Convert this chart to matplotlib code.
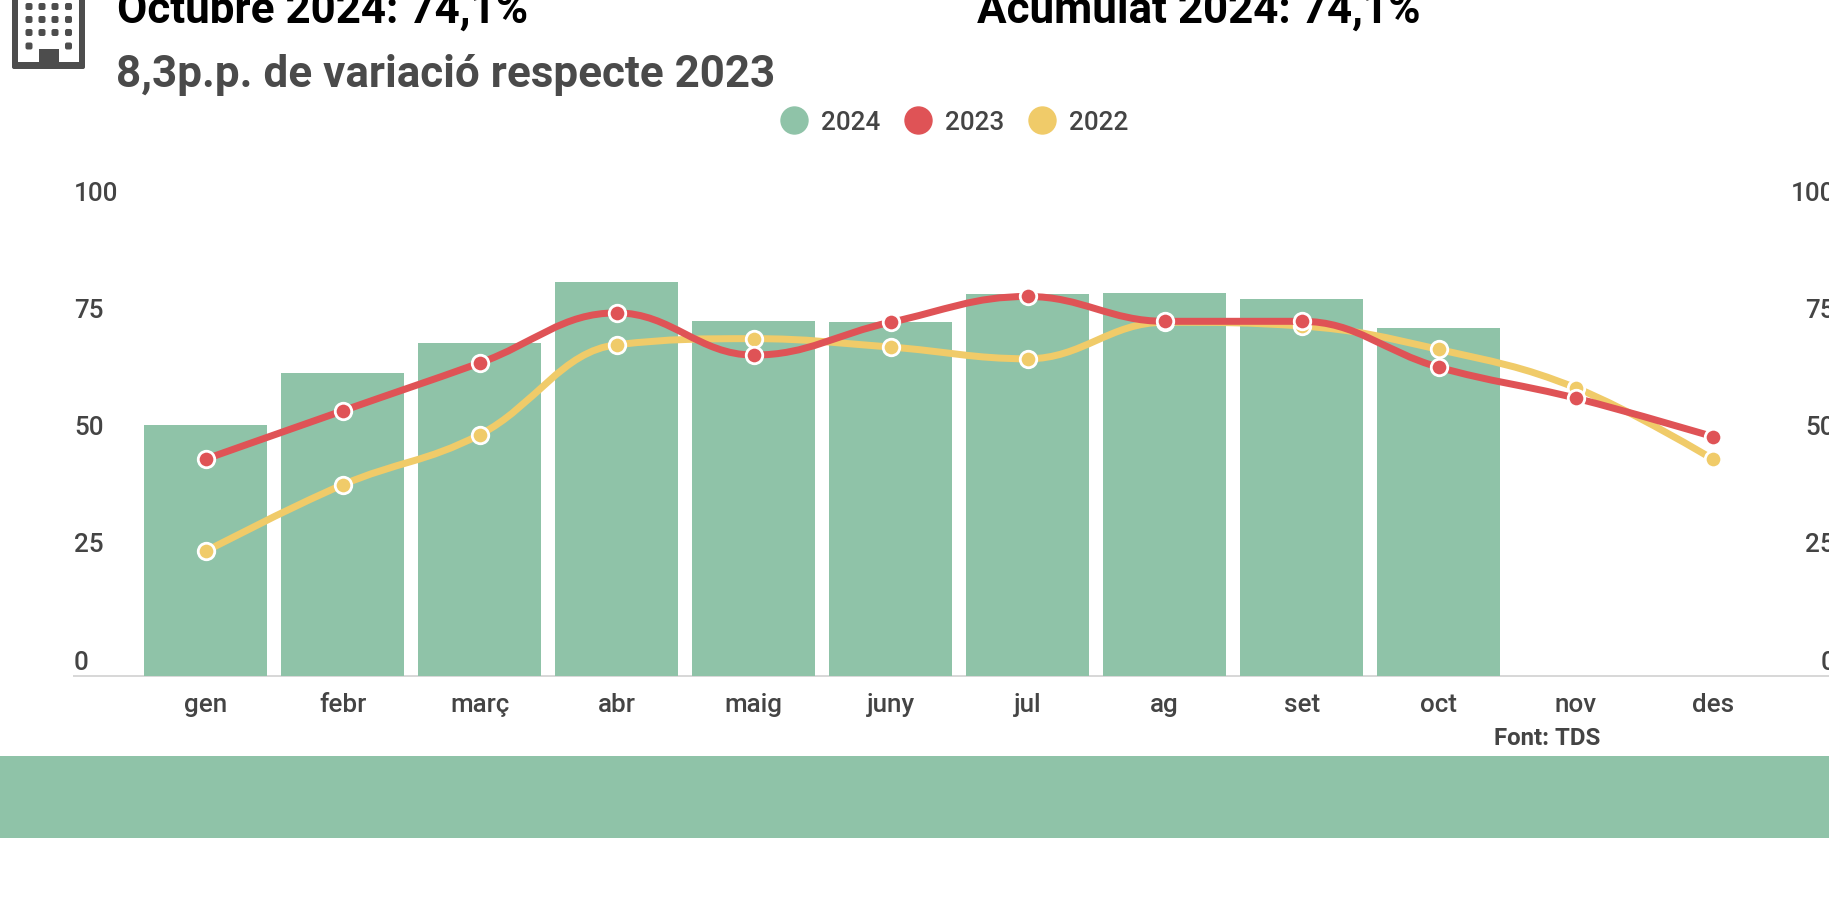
import matplotlib
matplotlib.use("Agg")
import matplotlib.pyplot as plt
from matplotlib.lines import Line2D
from matplotlib.patches import FancyBboxPatch, PathPatch, Rectangle
from matplotlib.path import Path
from matplotlib.transforms import IdentityTransform

W, H = 1829, 903
GREEN = "#8fc3a8"
RED = "#df5356"
YELLOW = "#f0cb69"
DARK = "#444444"
AXIS_GREY = "#d8d8d8"

months = ["gen", "febr", "març", "abr", "maig", "juny", "jul", "ag", "set", "oct", "nov", "des"]
values_2024 = [53.5, 64.6, 70.9, 83.9, 75.6, 75.4, 81.4, 81.6, 80.4, 74.1]
values_2023 = [46.2, 56.5, 66.7, 77.4, 68.4, 75.4, 80.9, 75.6, 75.6, 65.8, 59.2, 51.0]
values_2022 = [26.5, 40.7, 51.4, 70.6, 71.9, 70.1, 67.6, 75.4, 74.6, 69.6, 61.4, 46.2]
y_ticks = [0, 25, 50, 75, 100]

plt.rcParams["font.family"] = ["Roboto", "DejaVu Sans"]


def px(size):
    # font size from pixels
    return size * 0.72


def spline_path(ys):
    # same control points a highcharts spline uses
    smoothing, denom = 1.5, 2.5
    n = len(ys)
    left, right = [None] * n, [None] * n
    for i in range(1, n - 1):
        lx = (smoothing * i + (i - 1)) / denom
        ly = (smoothing * ys[i] + ys[i - 1]) / denom
        rx = (smoothing * i + (i + 1)) / denom
        ry = (smoothing * ys[i] + ys[i + 1]) / denom
        corr = (ry - ly) * (rx - i) / (rx - lx) + ys[i] - ry
        ly += corr
        ry += corr
        if ly > ys[i - 1] and ly > ys[i]:
            ly = max(ys[i - 1], ys[i])
            ry = 2 * ys[i] - ly
        elif ly < ys[i - 1] and ly < ys[i]:
            ly = min(ys[i - 1], ys[i])
            ry = 2 * ys[i] - ly
        if ry > ys[i + 1] and ry > ys[i]:
            ry = max(ys[i + 1], ys[i])
            ly = 2 * ys[i] - ry
        elif ry < ys[i + 1] and ry < ys[i]:
            ry = min(ys[i + 1], ys[i])
            ly = 2 * ys[i] - ry
        left[i] = (lx, ly)
        right[i] = (rx, ry)
    left[n - 1] = (n - 1, ys[n - 1])
    right[0] = (0, ys[0])

    verts = [(0, ys[0])]
    codes = [Path.MOVETO]
    for i in range(1, n):
        verts += [right[i - 1], left[i], (i, ys[i])]
        codes += [Path.CURVE4] * 3
    return Path(verts, codes)


def draw_series(ax, ys, color, z):
    xs = list(range(len(ys)))
    ax.add_patch(PathPatch(spline_path(ys), fill=False, edgecolor=color, linewidth=px(7),
                           capstyle="round", zorder=z))
    ax.plot(xs, ys, ls="none", marker="o", markersize=px(16.5), markerfacecolor=color,
            markeredgecolor="white", markeredgewidth=px(2.8), zorder=z + 0.1, clip_on=False)


fig = plt.figure(figsize=(W / 100, H / 100), dpi=100, facecolor="white")

# chart area, in pixels of the reference
x0, x1, y_top, y_base = 74, W, 208, 676.5
ax = fig.add_axes([x0 / W, 1 - y_base / H, (x1 - x0) / W, (y_base - y_top) / H])
cat_first, cat_step = 205.7, 137
ax.set_xlim((x0 - cat_first) / cat_step, (x1 - cat_first) / cat_step)
ax.set_ylim(0, 100)

ax.bar(range(len(values_2024)), values_2024, width=0.9, color=GREEN, zorder=2)
draw_series(ax, values_2022, YELLOW, 3)
draw_series(ax, values_2023, RED, 4)

for side in ["top", "left", "right"]:
    ax.spines[side].set_visible(False)
ax.spines["bottom"].set_color(AXIS_GREY)
ax.spines["bottom"].set_linewidth(px(2))
ax.spines["bottom"].set_zorder(1)

ax.set_xticks(range(len(months)))
ax.set_xticklabels(months, fontsize=px(26), color=DARK, fontweight="medium")
ax.set_yticks([])
ax.tick_params(axis="x", length=0, pad=12)

# value labels sit above their level, at both ends
for t in y_ticks:
    y_px = y_base - (y_base - y_top) * t / 100 - 14
    fig.text(x0 / W, 1 - y_px / H, str(t), ha="left", va="center", fontsize=px(26),
             color=DARK, fontweight="medium")
    fig.text(1835 / W, 1 - y_px / H, str(t), ha="right", va="center", fontsize=px(26),
             color=DARK, fontweight="medium")

# legend
handles = [Line2D([], [], ls="none", marker="o", markersize=px(27), color=c)
           for c in [GREEN, RED, YELLOW]]
fig.legend(handles, ["2024", "2023", "2022"], loc="center", bbox_to_anchor=(953 / W, 1 - 123 / H),
           ncols=3, frameon=False, handletextpad=0.44, columnspacing=0.85, handlelength=1.2,
           labelcolor=DARK, prop={"family": "Roboto", "size": px(26), "weight": "medium"})

# header
fig.text(117 / W, 1 - 23 / H, "Octubre 2024: 74,1%", fontsize=px(44), fontweight="bold", color="black")
fig.text(977 / W, 1 - 23 / H, "Acumulat 2024: 74,1%", fontsize=px(44), fontweight="bold", color="black")
fig.text(116 / W, 1 - 87 / H, "8,3p.p. de variació respecte 2023", fontsize=px(44),
         fontweight="bold", color="#4a4a4a")
fig.text(1494 / W, 1 - 745 / H, "Font: TDS", fontsize=px(24), fontweight="bold", color=DARK)


def add_box(x, y, w, h, color):
    fig.add_artist(Rectangle((x / W, 1 - (y + h) / H), w / W, h / H, transform=fig.transFigure,
                             facecolor=color, edgecolor="none"))


def add_round_box(x, y, w, h, color, r=2):
    # in figure pixels, so the corners stay round
    fig.add_artist(FancyBboxPatch((x + r, H - y - h + r), w - 2 * r, h - 2 * r,
                                  boxstyle=f"round,pad={r},rounding_size={r}",
                                  transform=IdentityTransform(), facecolor=color, edgecolor="none"))


# footer band
add_box(0, 757, W, 82, GREEN)

# building icon
ICON = "#4d4d4d"
add_box(12, -5, 6, 73, ICON)
add_box(79, -5, 6, 73, ICON)
add_round_box(12, 63, 73, 7, ICON)
add_box(39, 50, 20, 15, ICON)
for wy in [4, 17, 30]:
    for wx in [25.5, 38.5, 51.5, 65]:
        add_round_box(wx, wy, 7, 7, ICON)
add_round_box(25.5, 43.5, 7, 7, ICON)
add_round_box(65, 43.5, 7, 7, ICON)

fig.savefig("out.png", dpi=100)
